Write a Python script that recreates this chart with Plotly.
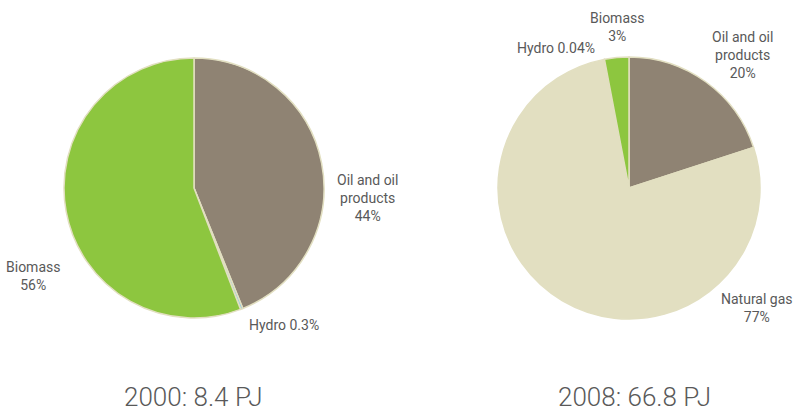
import plotly.graph_objects as go

W, H = 802, 415

# Data
categories_2000 = ["Oil and oil products", "Hydro", "Biomass"]
values_2000 = [44, 0.3, 56]
categories_2008 = ["Oil and oil products", "Natural gas", "Hydro", "Biomass"]
values_2008 = [20, 77, 0.04, 3]
titles = ["2000: 8.4 PJ", "2008: 66.8 PJ"]

color_map = {
    "Oil and oil products": "#8f8373",
    "Natural gas": "#e2dfc1",
    "Hydro": "#8fcbe3",
    "Biomass": "#8dc63f",
}

FONT = "Roboto"
TXT = "#595959"

def px_x(x):
    return x / W

def px_y(y):
    return 1 - y / H

fig = go.Figure()
fig.add_trace(go.Pie(
    labels=categories_2000, values=values_2000, sort=False, direction="clockwise",
    rotation=0, textinfo="none", hoverinfo="label+percent",
    marker=dict(colors=[color_map[c] for c in categories_2000],
                line=dict(color="#e2dfc1", width=1.5)),
    domain=dict(x=[px_x(64), px_x(324)], y=[px_y(318), px_y(58)]),
    showlegend=False,
))
fig.add_trace(go.Pie(
    labels=categories_2008, values=values_2008, sort=False, direction="clockwise",
    rotation=0, textinfo="none", hoverinfo="label+percent",
    marker=dict(colors=[color_map[c] for c in categories_2008],
                line=dict(color="#e2dfc1", width=1.5)),
    domain=dict(x=[px_x(498), px_x(760)], y=[px_y(319), px_y(57)]),
    showlegend=False,
))

labels = [
    ("Oil and oil<br>products<br>44%", 367, 198),
    ("Hydro 0.3%", 284, 325),
    ("Biomass<br>56%", 33, 276),
    ("Biomass<br>3%", 617, 27),
    ("Hydro 0.04%", 556, 48),
    ("Oil and oil<br>products<br>20%", 742, 55),
    ("Natural gas<br>77%", 757, 308),
]
annotations = []
for text, x, y in labels:
    annotations.append(dict(
        text=text, x=px_x(x), y=px_y(y), xref="paper", yref="paper",
        xanchor="center", yanchor="middle", showarrow=False,
        font=dict(family=FONT, size=14, color=TXT), align="center",
    ))
for text, x in zip(titles, [193, 634]):
    annotations.append(dict(
        text=text, x=px_x(x), y=px_y(397), xref="paper", yref="paper",
        xanchor="center", yanchor="middle", showarrow=False,
        font=dict(family=FONT, size=26, color=TXT, weight=300),
    ))

fig.update_layout(
    width=W, height=H, margin=dict(l=0, r=0, t=0, b=0),
    paper_bgcolor="white", plot_bgcolor="white",
    annotations=annotations,
)
fig.write_html("out.html", config={"displayModeBar": False},
               post_script="document.body.style.margin='0px';")
